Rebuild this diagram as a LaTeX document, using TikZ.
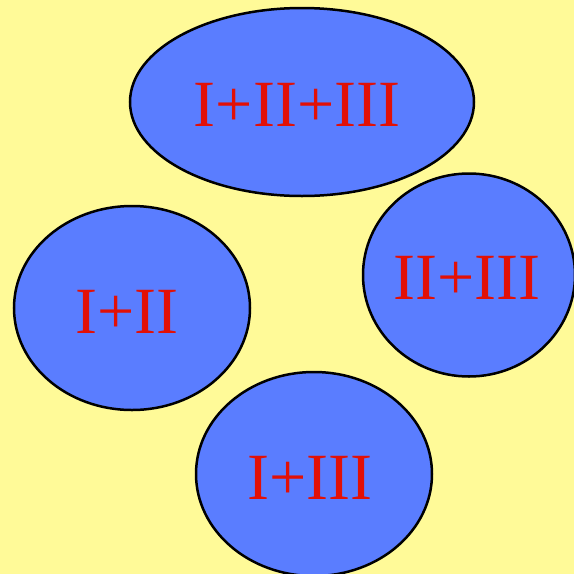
\documentclass[tikz,border=0pt]{standalone}
\usepackage{fontspec}
\setmainfont{Liberation Serif}
\usetikzlibrary{shapes.geometric}
\definecolor{paperyellow}{RGB}{255, 250, 152}
\definecolor{setblue}{RGB}{90, 125, 255}
\definecolor{labelred}{RGB}{226, 16, 6}

\begin{document}
\begin{tikzpicture}[x=1pt, y=-1pt, every node/.style={inner sep=0pt},
	setbubble/.style={ellipse, draw=black, line width=2.5pt, fill=setblue},
	every label/.style={text=labelred, font=\fontsize{66}{66}\selectfont}]
	
	% --- Background and frame ---
	\fill[paperyellow] (0, 0) rectangle (574, 574);
	\useasboundingbox (0, 0) rectangle (574, 574);
	\clip (0, 0) rectangle (574, 574);
	
	% --- Top: all three ---
	\node[setbubble, minimum width=344pt, minimum height=188pt,
	label={[xshift=-5pt, yshift=-3pt]center:I+II+III}] (abc) at (302, 102) {};
	
	% --- Left: first two ---
	\node[setbubble, minimum width=236pt, minimum height=204pt,
	label={[xshift=-5pt, yshift=-4pt]center:I+II}] (ab) at (132, 308) {};
	
	% --- Right: last two ---
	\node[setbubble, minimum width=212pt, minimum height=203pt,
	label={[xshift=-2pt, yshift=-3pt]center:II+III}] (bc) at (469, 275) {};
	
	% --- Bottom: first and last ---
	\node[setbubble, minimum width=236pt, minimum height=204pt,
	label={[xshift=-4pt, yshift=-4pt]center:I+III}] (ac) at (314, 474) {};
	
\end{tikzpicture}
\end{document}
